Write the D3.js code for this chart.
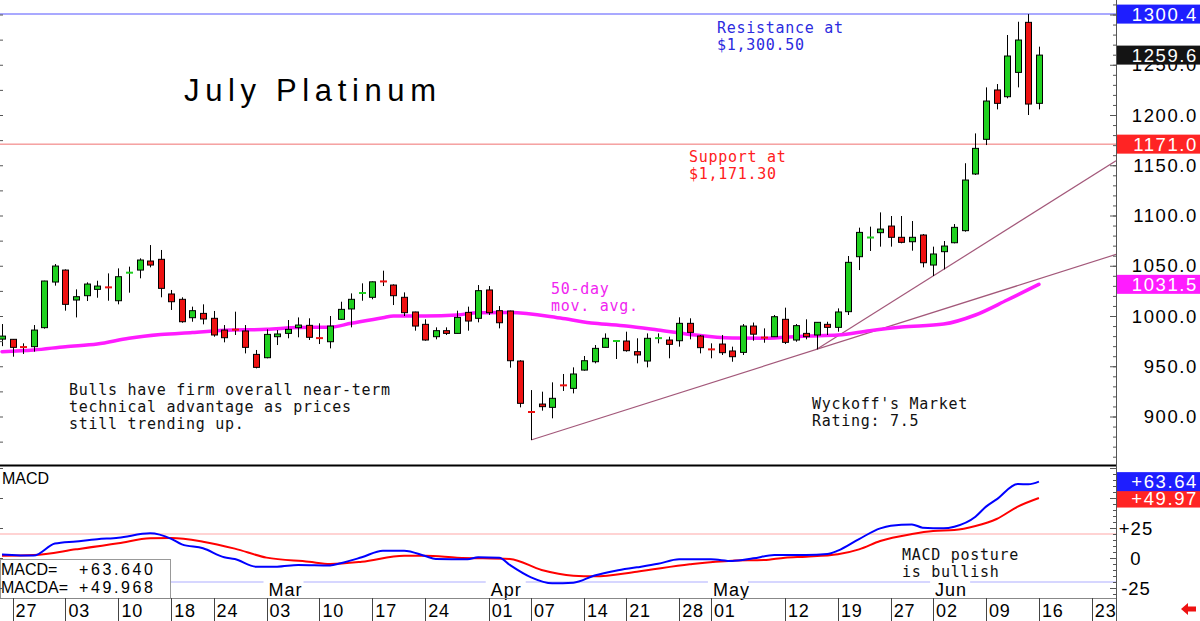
<!DOCTYPE html>
<html>
<head>
<meta charset="utf-8">
<script src="https://cdn.jsdelivr.net/npm/d3@7"></script>
<style>
  html, body { margin: 0; padding: 0; background: #fff; }
  svg { display: block; }
</style>
</head>
<body>
<div id="chart"></div>
<script>
// July platinum, daily bars 24 Jan - 16 Jun 2025
const dates = [
    '01-24', '01-27', '01-28', '01-29', '01-30', '01-31',
    '02-03', '02-04', '02-05', '02-06', '02-07',
    '02-10', '02-11', '02-12', '02-13', '02-14',
    '02-18', '02-19', '02-20', '02-21',
    '02-24', '02-25', '02-26', '02-27', '02-28',
    '03-03', '03-04', '03-05', '03-06', '03-07',
    '03-10', '03-11', '03-12', '03-13', '03-14',
    '03-17', '03-18', '03-19', '03-20', '03-21',
    '03-24', '03-25', '03-26', '03-27', '03-28',
    '03-31',
    '04-01', '04-02', '04-03', '04-04',
    '04-07', '04-08', '04-09', '04-10', '04-11',
    '04-14', '04-15', '04-16', '04-17',
    '04-21', '04-22', '04-23', '04-24', '04-25',
    '04-28', '04-29', '04-30',
    '05-01', '05-02',
    '05-05', '05-06', '05-07', '05-08', '05-09',
    '05-12', '05-13', '05-14', '05-15', '05-16',
    '05-19', '05-20', '05-21', '05-22', '05-23',
    '05-27', '05-28', '05-29', '05-30',
    '06-02', '06-03', '06-04', '06-05', '06-06',
    '06-09', '06-10', '06-11', '06-12', '06-13',
    '06-16'
];

const open = [
    977.0, 976.8, 969.5, 969.5, 988.4, 1033.8,
    1045.7, 1015.9, 1020.2, 1026.5, 1029.2,
    1015.2, 1042.4, 1045.7, 1054.7, 1056.4,
    1021.9, 1016.6, 998.3, 1002.6,
    997.7, 986.0, 987.0, 985.1, 961.8,
    958.5, 979.4, 982.7, 988.4, 990.7,
    979.0, 974.4, 996.7, 1007.0, 1022.5,
    1018.6, 1035.0, 1030.8, 1018.6, 1004.0,
    991.7, 979.4, 985.4, 982.7, 1003.6,
    997.7,
    1025.9, 1005.3, 1005.0, 955.2,
    905.0, 912.4, 909.1, 932.0, 928.0,
    946.2, 954.5, 968.8, 974.8,
    975.1, 964.5, 955.2, 977.5, 976.1,
    975.4, 992.7, 980.1,
    967.5, 972.1,
    965.2, 963.8, 990.0, 979.0, 979.4,
    996.7, 976.1, 982.7, 981.1, 991.7,
    988.7, 1004.3, 1059.0, 1077.8, 1082.9,
    1089.5, 1078.3, 1073.9, 1080.6,
    1050.7, 1064.0, 1072.9, 1084.9, 1141.3,
    1175.8, 1224.9, 1218.2, 1242.4, 1292.2,
    1211.6
];

const high = [
    992.0, 977.1, 972.8, 991.0, 1035.1, 1051.7,
    1046.4, 1026.5, 1033.5, 1035.1, 1042.4,
    1047.4, 1049.1, 1057.4, 1070.6, 1065.7,
    1025.9, 1018.6, 1009.3, 1011.6,
    1005.0, 991.0, 1004.3, 991.0, 966.2,
    986.7, 986.0, 996.0, 998.6, 997.7,
    992.7, 1000.0, 1014.2, 1022.5, 1032.5,
    1034.4, 1045.1, 1031.5, 1023.5, 1004.3,
    996.7, 988.7, 988.7, 1005.3, 1009.3,
    1030.8,
    1029.8, 1009.9, 1005.3, 956.0,
    926.3, 924.7, 934.0, 942.3, 948.9,
    960.2, 971.1, 982.7, 976.1,
    984.4, 977.8, 982.7, 982.7, 979.4,
    998.7, 997.7, 981.1,
    972.8, 981.1,
    969.5, 992.0, 993.5, 987.7, 1001.0,
    1008.3, 992.0, 996.7, 993.7, 994.3,
    1007.6, 1059.7, 1087.9, 1088.9, 1103.1,
    1099.5, 1099.5, 1094.5, 1081.6,
    1069.0, 1074.6, 1091.5, 1152.0, 1181.7,
    1227.5, 1230.8, 1279.6, 1292.8, 1300.4,
    1268.0
];

const low = [
    970.0, 959.5, 962.2, 964.5, 987.4, 1030.2,
    1005.3, 998.6, 1014.9, 1018.2, 1015.2,
    1011.6, 1023.2, 1037.5, 1048.4, 1018.6,
    1006.0, 993.3, 994.3, 991.7,
    979.4, 973.8, 981.1, 962.8, 947.9,
    957.9, 971.1, 977.8, 978.8, 976.1,
    972.1, 967.8, 996.0, 988.7, 1015.2,
    1016.6, 1029.8, 1010.9, 1000.0, 985.4,
    975.4, 976.8, 981.1, 982.7, 985.4,
    993.7,
    1001.0, 987.7, 948.6, 909.1,
    876.6, 905.8, 898.2, 925.4, 923.0,
    945.6, 952.9, 968.8, 957.2,
    964.5, 952.9, 948.9, 972.8, 957.9,
    969.5, 976.8, 962.8,
    957.9, 961.2,
    954.5, 961.2, 975.4, 973.4, 979.4,
    972.1, 974.4, 976.8, 966.8, 981.1,
    984.4, 1001.0, 1045.7, 1064.7, 1069.0,
    1069.0, 1072.3, 1065.0, 1048.4,
    1039.8, 1046.4, 1072.3, 1083.9, 1140.3,
    1170.1, 1205.6, 1216.6, 1227.5, 1200.0,
    1205.6
];

const close = [
    980.0, 968.8, 969.1, 986.0, 1034.8, 1049.7,
    1011.6, 1019.2, 1031.8, 1029.8, 1028.5,
    1039.1, 1043.1, 1055.7, 1050.7, 1027.5,
    1014.2, 994.3, 1005.3, 997.0,
    981.1, 978.4, 986.4, 968.8, 948.9,
    981.7, 982.1, 986.7, 991.0, 978.8,
    978.0, 990.0, 1006.6, 1016.6, 1022.9,
    1034.0, 1034.4, 1020.2, 1003.3, 990.0,
    976.1, 985.4, 982.7, 998.6, 995.0,
    1025.2,
    1003.3, 993.3, 955.5, 913.1,
    904.5, 909.8, 918.1, 931.0, 942.3,
    955.5, 967.8, 977.8, 975.1,
    965.5, 961.2, 977.8, 978.0, 971.8,
    992.7, 983.7, 968.5,
    966.8, 963.5,
    959.5, 990.0, 981.9, 978.5, 999.3,
    973.8, 990.4, 979.4, 993.7, 988.7,
    1004.0, 1053.4, 1083.2, 1078.1, 1086.5,
    1078.3, 1073.3, 1078.3, 1053.0,
    1061.7, 1069.6, 1088.2, 1135.3, 1166.8,
    1213.9, 1211.6, 1258.7, 1274.6, 1210.9,
    1259.6
];

// 50-day moving average, read at spaced dates
const maDates = ['01-24', '01-29', '02-03', '02-06', '02-11', '02-14', '02-20', '02-25', '03-03', '03-06',
    '03-11', '03-13', '03-18', '03-19', '03-24', '03-27', '03-31', '04-03', '04-10', '04-15', '04-21',
    '04-24', '04-29', '05-05', '05-08', '05-14', '05-19', '05-22', '05-28', '06-03', '06-06', '06-11', '06-16'];
const maValues = [964.5, 966.2, 969.5, 972.1, 977.8, 981.5, 983.6, 985.8, 986.7, 988.5,
    988.9, 992.7, 998.3, 1000.0, 1000.0, 1001.0, 1003.3, 1003.5, 997.5, 992.7, 990.0,
    986.0, 981.7, 978.0, 977.8, 980.1, 981.1, 985.4, 989.0, 992.0, 1001.0, 1015.9, 1031.5];

// MACD and its average (MACDA)
const macdDates = ['01-24', '01-29', '01-31', '02-04', '02-06', '02-10', '02-13', '02-18', '02-19', '02-21',
    '02-25', '02-26', '02-28', '03-04', '03-06', '03-11', '03-12', '03-14', '03-18', '03-20', '03-24',
    '03-25', '03-28', '03-31', '04-02', '04-03', '04-07', '04-09', '04-11', '04-15', '04-17', '04-22',
    '04-24', '04-28', '05-01', '05-05', '05-07', '05-09', '05-14', '05-16', '05-19', '05-21', '05-23',
    '05-27', '05-29', '05-30', '06-03', '06-04', '06-06', '06-09', '06-10', '06-12', '06-13', '06-16'];
const macdValues = [3.0, 2.0, 12.0, 13.8, 15.6, 16.9, 20.6, 16.0, 11.4, 8.1,
    0.6, -0.8, -7.2, -7.2, -5.8, -6.2, -4.4, 0.6, 6.1, 6.1, 1.7,
    -0.8, -1.1, 0.6, 0.3, -5.8, -16.1, -21.1, -20.6, -14.6, -10.6, -7.8,
    -4.8, -1.1, -1.1, -2.5, -0.3, 2.5, 2.5, 3.3, 6.1, 15.8, 24.7,
    26.9, 28.0, 25.3, 24.7, 26.1, 34.4, 42.8, 48.9, 61.7, 61.4, 63.640];

const signalDates = ['01-24', '01-29', '02-04', '02-10', '02-13', '02-18', '02-21', '02-26', '03-03', '03-07',
    '03-11', '03-14', '03-20', '03-24', '03-27', '04-03', '04-08', '04-11', '04-15', '04-22', '04-29',
    '05-05', '05-08', '05-12', '05-14', '05-19', '05-21', '05-23', '05-29', '06-02', '06-04', '06-06',
    '06-10', '06-12', '06-16'];
const signalValues = [1.9, 2.5, 7.2, 12.2, 16.4, 16.7, 13.6, 7.8, 0.3, -3.1,
    -5.0, -3.1, 1.9, 1.9, 0.3, -0.8, -10.0, -14.7, -15.3, -11.4, -5.3,
    -2.2, -1.7, 0.3, 1.1, 3.1, 7.2, 14.2, 20.0, 22.5, 23.3, 26.7,
    32.5, 42.8, 49.968];

// levels and trend lines (anchored on lows)
const resistance = 1300.4;
const support = 1171.0;
const trendLines = [
    [['04-07', 876.6], ['05-15', 966.8]],
    [['05-15', 966.8], ['06-02', 1039.8]]
];

// axes
const holidays = ['02-17', '04-18', '05-26'];
const dateTicks = ['01-27', '02-03', '02-10', '02-18', '02-24', '03-03', '03-10', '03-17', '03-24', '04-01',
    '04-07', '04-14', '04-21', '04-28', '05-01', '05-12', '05-19', '05-27', '06-02', '06-09', '06-16', '06-23'];
const monthTicks = ['03-03', '04-01', '05-01', '06-02'];
const monthLabels = ['Mar', 'Apr', 'May', 'Jun'];
const priceLabels = [900, 950, 1000, 1050, 1100, 1150, 1200, 1250, 1300];
const macdLabels = [-25, 0, 25];

// ---------------------------------------------------------------
const width = 1200, height = 621;
const plotRight = 1116;
const priceBottom = 465;
const macdTop = 467, macdBottom = 598;

const sans = '"Liberation Sans", Arial, sans-serif';
const mono = '"DejaVu Sans Mono", monospace';
const green = '#1fd01f', red = '#ee1111';

const parse = d3.timeParse('%Y-%m-%d');
const fmt = d3.timeFormat('%m-%d');
const calendar = d3.timeDay.range(parse('2025-01-24'), parse('2025-06-26'))
    .filter(d => d.getDay() !== 0 && d.getDay() !== 6)
    .map(fmt)
    .filter(d => !holidays.includes(d));

const x = d3.scalePoint().domain(calendar).range([2, 1113]);
const y = d3.scaleLinear().domain([900, 1200]).range([416.5, 115]);
const ym = d3.scaleLinear().domain([-25, 25]).range([588, 528]);
const px = d => Math.round(x(d)) + 0.5;

const svg = d3.select('#chart').append('svg')
    .attr('width', width)
    .attr('height', height);

svg.append('rect').attr('width', width).attr('height', height).attr('fill', '#fff');

const defs = svg.append('defs');
defs.append('clipPath').attr('id', 'price-clip')
    .append('rect').attr('width', plotRight).attr('height', priceBottom);
defs.append('clipPath').attr('id', 'macd-clip')
    .append('rect').attr('y', macdTop).attr('width', plotRight).attr('height', macdBottom - macdTop);

// ---------------- price panel ----------------
const price = svg.append('g').attr('clip-path', 'url(#price-clip)');

price.append('line')
    .attr('x1', 0).attr('x2', plotRight)
    .attr('y1', y(resistance)).attr('y2', y(resistance))
    .attr('stroke', '#8c8cff').attr('stroke-width', 1.5);

price.append('line')
    .attr('x1', 0).attr('x2', plotRight)
    .attr('y1', y(support)).attr('y2', y(support))
    .attr('stroke', '#f07070').attr('stroke-width', 1);

// trend lines run from the first anchor through the second to the right edge
trendLines.forEach(([a, b]) => {
    const x1 = x(a[0]), y1 = y(a[1]);
    const x2 = x(b[0]), y2 = y(b[1]);
    const slope = (y2 - y1) / (x2 - x1);
    price.append('line')
        .attr('x1', x1).attr('y1', y1)
        .attr('x2', plotRight).attr('y2', y1 + slope * (plotRight - x1))
        .attr('stroke', '#a3587a').attr('stroke-width', 1.2);
});

const maLine = d3.line()
    .x(d => x(d[0]))
    .y(d => y(d[1]))
    .curve(d3.curveMonotoneX);

price.append('path')
    .datum(maDates.map((d, i) => [d, maValues[i]]))
    .attr('d', maLine)
    .attr('fill', 'none')
    .attr('stroke', '#ff1cff')
    .attr('stroke-width', 3.5)
    .attr('stroke-linecap', 'round');

const bars = dates.map((d, i) => ({ date: d, o: open[i], h: high[i], l: low[i], c: close[i] }));

const candles = price.selectAll('.candle')
    .data(bars)
    .join('g')
    .attr('class', 'candle');

candles.append('line')
    .attr('x1', d => px(d.date)).attr('x2', d => px(d.date))
    .attr('y1', d => y(d.h)).attr('y2', d => y(d.l))
    .attr('stroke', '#000').attr('stroke-width', 1);

candles.filter(d => Math.abs(d.c - d.o) >= 1.5)
    .append('rect')
    .attr('x', d => px(d.date) - 3)
    .attr('y', d => y(Math.max(d.o, d.c)))
    .attr('width', 6)
    .attr('height', d => Math.abs(y(d.o) - y(d.c)))
    .attr('fill', d => d.c >= d.o ? green : red)
    .attr('stroke', '#000').attr('stroke-width', 1);

candles.filter(d => Math.abs(d.c - d.o) < 1.5)
    .append('line')
    .attr('x1', d => px(d.date) - 3.5).attr('x2', d => px(d.date) + 3.5)
    .attr('y1', d => y(d.c)).attr('y2', d => y(d.c))
    .attr('stroke', d => d.c >= d.o ? green : red)
    .attr('stroke-width', 2);

// notes
function note(lines, x0, y0, color) {
    lines.forEach((t, i) => {
        svg.append('text')
            .attr('x', x0).attr('y', y0 + i * 17)
            .attr('fill', color)
            .style('font-family', mono)
            .style('font-size', '15px')
            .style('letter-spacing', '0.72px')
            .style('white-space', 'pre')
            .text(t);
    });
}

svg.append('text')
    .attr('x', 184).attr('y', 101)
    .attr('textLength', 252)
    .attr('lengthAdjust', 'spacing')
    .style('font-family', sans)
    .style('font-size', '31px')
    .text('July Platinum');

note(['Resistance at', '$1,300.50'], 717, 33, '#2b2be0');
note(['Support at', '$1,171.30'], 689, 162, '#ff2020');
note(['50-day', 'mov. avg.'], 551, 294, '#f025f0');
note(['Bulls have firm overall near-term', 'technical advantage as prices', 'still trending up.'], 69, 395, '#111');
note(["Wyckoff's Market", 'Rating: 7.5'], 812, 409, '#111');

// ---------------- macd panel ----------------
const macd = svg.append('g').attr('clip-path', 'url(#macd-clip)');

macd.append('line')
    .attr('x1', 0).attr('x2', plotRight)
    .attr('y1', ym(20)).attr('y2', ym(20))
    .attr('stroke', '#ffc4c4').attr('stroke-width', 1.5);

macd.append('line')
    .attr('x1', 0).attr('x2', plotRight)
    .attr('y1', ym(-20)).attr('y2', ym(-20))
    .attr('stroke', '#c8c8ff').attr('stroke-width', 1.5);

const macdLine = d3.line()
    .x(d => x(d[0]))
    .y(d => ym(d[1]))
    .curve(d3.curveMonotoneX);

macd.append('path')
    .datum(signalDates.map((d, i) => [d, signalValues[i]]))
    .attr('d', macdLine)
    .attr('fill', 'none').attr('stroke', '#ff0000').attr('stroke-width', 2);

macd.append('path')
    .datum(macdDates.map((d, i) => [d, macdValues[i]]))
    .attr('d', macdLine)
    .attr('fill', 'none').attr('stroke', '#0000ff').attr('stroke-width', 2);

svg.append('text')
    .attr('x', 2).attr('y', 484)
    .style('font-family', sans).style('font-size', '16px')
    .text('MACD');

note(['MACD posture', 'is bullish'], 902, 560, '#111');

// month labels sit on a white patch at the bottom of the macd panel
monthTicks.forEach((d, i) => {
    svg.append('rect')
        .attr('x', x(d) - 3).attr('y', 580)
        .attr('width', 40).attr('height', 17)
        .attr('fill', '#fff');
    svg.append('text')
        .attr('x', x(d) + 2).attr('y', 596)
        .style('font-family', sans).style('font-size', '18px')
        .style('letter-spacing', '1px')
        .text(monthLabels[i]);
});

// value box, bottom left
const box = svg.append('g');
box.append('rect')
    .attr('x', 0.5).attr('y', 559.5)
    .attr('width', 170).attr('height', 39)
    .attr('fill', '#fff').attr('stroke', '#999');
[['MACD=', d3.format('+.3f')(macdValues[macdValues.length - 1])],
 ['MACDA=', d3.format('+.3f')(signalValues[signalValues.length - 1])]].forEach(([name, val], i) => {
    box.append('text')
        .attr('x', 1).attr('y', 575 + i * 18)
        .style('font-family', sans).style('font-size', '16px')
        .text(name);
    box.append('text')
        .attr('x', 79).attr('y', 575 + i * 18)
        .style('font-family', sans).style('font-size', '16px')
        .style('letter-spacing', '2.6px')
        .text(val);
});

// ---------------- frame ----------------
svg.append('line')
    .attr('x1', 0).attr('x2', plotRight)
    .attr('y1', priceBottom + 0.5).attr('y2', priceBottom + 0.5)
    .attr('stroke', '#000').attr('stroke-width', 2);

svg.append('line')
    .attr('x1', 0).attr('x2', plotRight)
    .attr('y1', macdBottom + 0.5).attr('y2', macdBottom + 0.5)
    .attr('stroke', '#888').attr('stroke-width', 1);

svg.append('line')
    .attr('x1', plotRight + 0.5).attr('x2', plotRight + 0.5)
    .attr('y1', 0).attr('y2', height)
    .attr('stroke', '#555').attr('stroke-width', 1);

// ---------------- right axes ----------------
const rightAxis = svg.append('g').attr('transform', `translate(${plotRight},0)`);

rightAxis.append('g')
    .call(d3.axisLeft(y).tickValues(d3.range(860, 1311, 10)).tickSize(3).tickFormat(''))
    .call(g => g.select('.domain').remove());
rightAxis.append('g')
    .call(d3.axisLeft(y).tickValues(d3.range(900, 1301, 50)).tickSize(6).tickFormat(''))
    .call(g => g.select('.domain').remove());
rightAxis.append('g')
    .call(d3.axisLeft(ym).tickValues(d3.range(-30, 76, 5)).tickSize(3).tickFormat(''))
    .call(g => g.select('.domain').remove());
rightAxis.append('g')
    .call(d3.axisLeft(ym).tickValues([-25, 0, 25, 50, 75]).tickSize(6).tickFormat(''))
    .call(g => g.select('.domain').remove());
rightAxis.selectAll('.tick line').attr('stroke', '#555');

// left edge ticks
const leftAxis = svg.append('g');
leftAxis.append('g')
    .call(d3.axisRight(y).tickValues(d3.range(875, 1301, 25)).tickSize(3).tickFormat(''))
    .call(g => g.select('.domain').remove());
leftAxis.append('g')
    .call(d3.axisRight(ym).tickValues([-25, 0, 25, 50, 75]).tickSize(3).tickFormat(''))
    .call(g => g.select('.domain').remove());
leftAxis.selectAll('.tick line').attr('stroke', '#555');

svg.append('g').selectAll('text')
    .data(priceLabels)
    .join('text')
    .attr('x', 1198).attr('y', d => y(d) + 6.5)
    .attr('text-anchor', 'end')
    .style('font-family', sans).style('font-size', '18.5px')
    .style('letter-spacing', '1.6px')
    .text(d => d3.format('.1f')(d));

svg.append('g').selectAll('text')
    .data(macdLabels)
    .join('text')
    .attr('x', 1136).attr('y', d => ym(d) + 6.5)
    .attr('text-anchor', 'middle')
    .style('font-family', sans).style('font-size', '18.5px')
    .style('letter-spacing', '1px')
    .text(d => d > 0 ? '+' + d : d);

function valueTag(yPos, text, fill) {
    svg.append('rect')
        .attr('x', plotRight + 1).attr('y', yPos - 9.5)
        .attr('width', width - plotRight - 1).attr('height', 19)
        .attr('fill', fill);
    svg.append('text')
        .attr('x', 1198).attr('y', yPos + 6.5)
        .attr('text-anchor', 'end')
        .attr('fill', '#fff')
        .style('font-family', sans).style('font-size', '18.5px')
        .style('letter-spacing', '1.6px')
        .text(text);
}

valueTag(y(resistance), d3.format('.1f')(resistance), '#1e1eff');
valueTag(y(close[close.length - 1]), d3.format('.1f')(close[close.length - 1]), '#141414');
valueTag(y(support), d3.format('.1f')(support), '#ff2424');
valueTag(y(maValues[maValues.length - 1]), d3.format('.1f')(maValues[maValues.length - 1]), '#ff1cff');
valueTag(ym(signalValues[signalValues.length - 1]), d3.format('+.2f')(signalValues[signalValues.length - 1]), '#ff2424');
valueTag(ym(macdValues[macdValues.length - 1]), d3.format('+.2f')(macdValues[macdValues.length - 1]), '#1e1eff');

// ---------------- date row ----------------
const dateRow = svg.append('g');
dateRow.selectAll('line')
    .data(dateTicks)
    .join('line')
    .attr('x1', d => px(d)).attr('x2', d => px(d))
    .attr('y1', macdBottom).attr('y2', height)
    .attr('stroke', '#444');
dateRow.selectAll('text')
    .data(dateTicks)
    .join('text')
    .attr('x', d => x(d) + 3).attr('y', 617)
    .style('font-family', sans).style('font-size', '18px')
    .style('letter-spacing', '0.8px')
    .text(d => d.slice(3));

// scroll arrow, bottom right
svg.append('path')
    .attr('d', 'M1181,609 L1188,603 L1188,606.5 L1196,606.5 L1196,611.5 L1188,611.5 L1188,615 Z')
    .attr('fill', '#ee1111');
</script>
</body>
</html>
